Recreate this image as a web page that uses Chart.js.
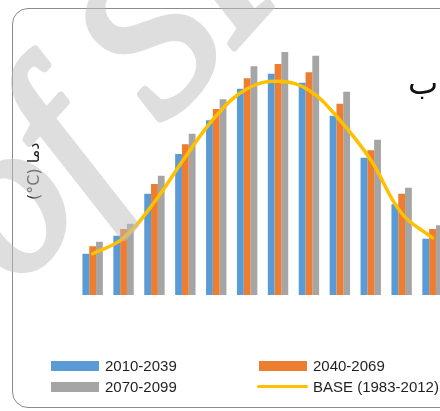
<!DOCTYPE html>
<html>
<head>
<meta charset="utf-8">
<script src="https://cdn.jsdelivr.net/npm/chart.js"></script>
<style>
html, body { margin: 0; padding: 0; background: #fff; overflow: hidden; width: 440px; height: 411px; }
#frame { position: absolute; left: 12px; top: 8px; width: 480px; height: 400px; border: 1px solid #8c8c8c; border-radius: 16px; box-sizing: border-box; }
#c { position: absolute; left: 0; top: 0; }
#legend { position: absolute; left: 0; top: 0; font-family: "Liberation Sans", Arial, sans-serif; font-size: 15px; color: #1f1f1f; }
#legend .item { position: absolute; height: 20px; line-height: 20px; white-space: nowrap; }
#legend .box { position: absolute; left: 0; top: 5px; width: 48px; height: 10px; }
#legend .line { position: absolute; left: -2px; top: 8px; width: 51px; height: 3px; border-radius: 2px; }
#legend .txt { position: absolute; left: 54px; top: 0; }
#tag { position: absolute; left: 408px; top: 64px; font-family: "DejaVu Sans", serif; font-size: 32px; color: #111; }
#wm { position: absolute; left: 0; top: 0; pointer-events: none; opacity: 0.5; }
</style>
</head>
<body>
<div id="frame"></div>
<canvas id="c" width="470" height="411"></canvas>
<div id="tag">ب</div>
<div id="legend"></div>
<svg id="wm" width="440" height="411">
  <text x="18" y="288" transform="rotate(-48 18 288)" font-family="Liberation Serif" font-style="italic" font-size="212" fill="#bdbdbd" stroke="#bdbdbd" stroke-width="7" stroke-linejoin="round">of SID</text>
</svg>
<script>
/*------------------------------*/
/*      monthly temperature     */
/*------------------------------*/
var months = ['Jan', 'Feb', 'Mar', 'Apr', 'May', 'Jun', 'Jul', 'Aug', 'Sep', 'Oct', 'Nov', 'Dec']

var p2010 = [5.5, 7.9, 13.5, 18.8, 23.3, 27.5, 29.5, 28.3, 23.9, 18.3, 12.1, 7.5]
var p2040 = [6.5, 8.8, 14.8, 20.1, 24.8, 28.9, 30.8, 29.7, 25.5, 19.3, 13.5, 8.8]
var p2070 = [7.1, 9.5, 15.9, 21.5, 26.1, 30.5, 32.4, 31.9, 27.1, 20.7, 14.3, 9.3]
var base  = [5.5, 7.6, 12.4, 18.4, 23.9, 27.5, 28.5, 27.3, 23.3, 18.0, 10.9, 7.6]

var seriesNames = ['2010-2039', '2040-2069', '2070-2099', 'BASE (1983-2012)']
var colors = ['#5B9BD5', '#ED7D31', '#A5A5A5', '#FFC000']

var data_temp = {
  labels: months,
  datasets: [
    { type: 'line', label: seriesNames[3], data: base, borderColor: colors[3], backgroundColor: colors[3],
      borderWidth: 3.5, tension: 0.4, pointRadius: 0, fill: false, order: 0, borderCapStyle: 'round' },
    { label: seriesNames[0], data: p2010, backgroundColor: colors[0], order: 1 },
    { label: seriesNames[1], data: p2040, backgroundColor: colors[1], order: 1 },
    { label: seriesNames[2], data: p2070, backgroundColor: colors[2], order: 1 }
  ]
}

var config_temp = {
  type: 'bar',
  data: data_temp,
  options: {
    responsive: false,
    animation: false,
    devicePixelRatio: 1,
    layout: { padding: { left: 0, right: 22, top: 47.5, bottom: 116 } },
    datasets: { bar: { categoryPercentage: 0.66, barPercentage: 1.0 } },
    scales: {
      x: { display: false },
      y: {
        min: 0, max: 33,
        ticks: { display: false },
        grid: { display: false },
        border: { display: false },
        title: {
          display: true,
          text: '(°C) دما',
          color: '#262626',
          font: { family: '"DejaVu Sans", sans-serif', size: 16 },
          padding: { top: 25, bottom: 25 }
        }
      }
    },
    plugins: {
      legend: { display: false },
      tooltip: { enabled: false }
    }
  }
}
var graph_temp = new Chart(document.getElementById('c').getContext('2d'), config_temp)

// legend laid out in two columns like the original
var legendPos = [[51, 356], [259, 356], [51, 377], [259, 377]]
var lg = document.getElementById('legend')
seriesNames.forEach(function (name, i) {
  var it = document.createElement('div')
  it.className = 'item'
  it.style.left = legendPos[i][0] + 'px'
  it.style.top = legendPos[i][1] + 'px'
  var mk = document.createElement('div')
  mk.className = i === 3 ? 'line' : 'box'
  mk.style.background = colors[i]
  var tx = document.createElement('div')
  tx.className = 'txt'
  tx.textContent = name
  it.appendChild(mk)
  it.appendChild(tx)
  lg.appendChild(it)
})
</script>
</body>
</html>
